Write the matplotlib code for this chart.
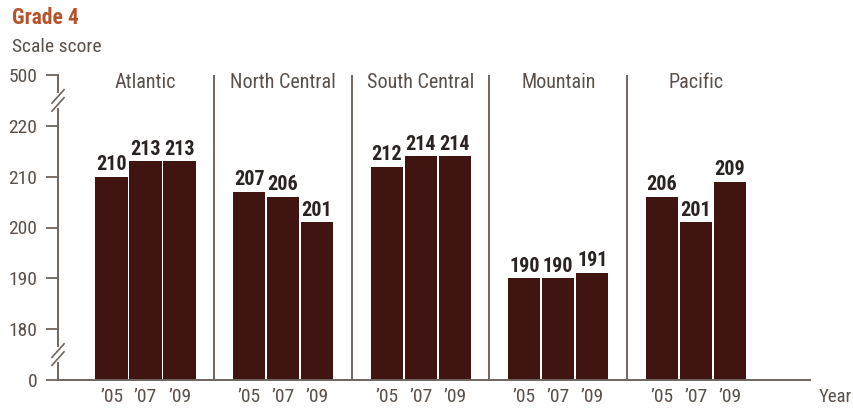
import numpy as np
import matplotlib
matplotlib.use("Agg")
import matplotlib.pyplot as plt
from matplotlib import font_manager
from matplotlib.transforms import blended_transform_factory, ScaledTranslation

# Average grade 4 scale scores by region
regions = ["Atlantic", "North Central", "South Central", "Mountain", "Pacific"]
years = ["\u201905", "\u201907", "\u201909"]
scores = [
    [210, 213, 213],
    [207, 206, 201],
    [212, 214, 214],
    [190, 190, 191],
    [206, 201, 209],
]
yticks = [0, 180, 190, 200, 210, 220, 500]

BAR = "#401511"
TXT = "#5b5049"
AXC = "#6e655e"
VAL = "#2b2222"
TITLE = "#b5532a"

# pick a narrow face if one is around
have = {f.name for f in font_manager.fontManager.ttflist}
family, stretch = "DejaVu Sans", "condensed"
for cand in ["Liberation Sans Narrow", "Roboto Condensed", "Open Sans Condensed", "Noto Sans Condensed"]:
    if cand in have:
        family, stretch = cand, "normal"
        break
plt.rcParams["font.family"] = [family]
plt.rcParams["font.stretch"] = stretch


# broken axis: 0-180 and 220-500 squeezed into one band each
def fwd(v):
    v = np.asarray(v, dtype=float)
    return np.where(v <= 180, v / 18.0, np.where(v <= 220, v - 170.0, 50 + (v - 220) / 28.0))


def inv(t):
    t = np.asarray(t, dtype=float)
    return np.where(t <= 10, t * 18.0, np.where(t <= 50, t + 170.0, 220 + (t - 50) * 28.0))


fig = plt.figure(figsize=(8.54, 4.08), dpi=100)
ax = fig.add_axes([58 / 854, 28 / 408, 752 / 854, 305 / 408])
ax.set_yscale("function", functions=(fwd, inv))
ax.set_ylim(0, 500)
ax.set_xlim(-0.636, 4.83)

step, width = 0.247, 0.233
top = blended_transform_factory(ax.transData, ax.transAxes)
for i, grp in enumerate(scores):
    xs = [i + (j - 1) * step for j in range(len(grp))]
    ax.bar(xs, grp, width=width, color=BAR, zorder=2)
    for x, v in zip(xs, grp):
        ax.annotate(str(v), (x, v), xytext=(0, 2), textcoords="offset points",
                    ha="center", va="bottom", fontsize=14.5, fontweight="bold", color=VAL)
    ax.text(i, 0.975, regions[i], transform=top,
            ha="center", va="center", fontsize=14.5, color=TXT)
    if i < len(scores) - 1:
        ax.axvline(i + 0.5, color=AXC, lw=1.4, zorder=1)

# year ticks under every bar
xt = [i + (j - 1) * step for i in range(len(scores)) for j in range(len(years))]
ax.set_xticks(xt)
ax.set_xticklabels(years * len(scores), fontsize=14, color=TXT)
ax.tick_params(axis="x", length=0, pad=6)

ax.set_yticks(yticks)
ax.set_yticklabels([str(t) for t in yticks], fontsize=14, color=TXT)
ax.yaxis.set_minor_locator(matplotlib.ticker.NullLocator())
ax.tick_params(axis="y", length=9, width=1.3, color=AXC, pad=6)

for s in ["top", "right"]:
    ax.spines[s].set_visible(False)
for s in ["left", "bottom"]:
    ax.spines[s].set_color(AXC)
    ax.spines[s].set_linewidth(1.4)

# break marks on the value axis
for v in [90, 360]:
    yc = float(fwd(v)) / 60.0
    base = ax.transAxes
    ax.plot([0, 0], [yc - 0.018, yc + 0.018], transform=base, color="white",
            lw=3, clip_on=False, zorder=5)
    for dy in (-4, 4):
        tr = base + ScaledTranslation(0, dy / 100.0, fig.dpi_scale_trans)
        ax.plot([-0.008, 0.008], [yc - 0.022, yc + 0.022], transform=tr, color=AXC,
                lw=1.2, clip_on=False, zorder=6)

fig.text(12 / 854, 1 - 18 / 408, "Grade 4", fontsize=15.5, fontweight="bold",
         color=TITLE, va="center", ha="left")
fig.text(12 / 854, 1 - 47 / 408, "Scale score", fontsize=14, color=TXT,
         va="center", ha="left")
fig.text(819 / 854, 1 - 397 / 408, "Year", fontsize=13.5, color=TXT,
         va="center", ha="left")

fig.savefig("out.png", dpi=100)
